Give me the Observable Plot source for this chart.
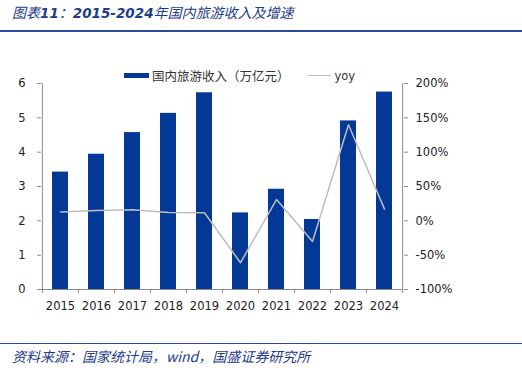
<!DOCTYPE html>
<html><head><meta charset="utf-8">
<script src="https://cdn.jsdelivr.net/npm/d3@7"></script>
<script src="https://cdn.jsdelivr.net/npm/@observablehq/plot@0.6"></script>
<style>
body{margin:0;background:#fff;}
#wrap{position:relative;width:522px;height:374px;overflow:hidden;font-family:"Noto Sans CJK SC","DejaVu Sans",sans-serif;}
#title{position:absolute;left:12px;top:2px;font-size:14px;font-style:italic;color:#1e3c8c;white-space:nowrap;}
#title b{font-family:"DejaVu Sans";font-size:13.5px;}
#tline{position:absolute;left:0;top:30px;width:522px;height:2px;background:#2a4a9e;}
#bline{position:absolute;left:0;top:343px;width:522px;height:1px;background:#2a4a9e;}
#src{position:absolute;left:12px;top:346px;font-size:14px;font-style:italic;color:#1e3c8c;white-space:nowrap;}
#legend{position:absolute;left:124px;top:66px;font-size:12.5px;color:#333;display:flex;align-items:center;white-space:nowrap;}
.sw{display:inline-block;width:25px;height:5px;background:#033896;margin-right:3px;}
.ln{display:inline-block;width:23px;height:1px;background:#bdbdbd;margin-left:18px;margin-right:4px;}
#chart{position:absolute;left:0;top:0;}
</style></head>
<body><div id="wrap">
<div id="title">图表<b>11</b>：<b>2015-2024</b>年国内旅游收入及增速</div>
<div id="tline"></div>
<div id="legend"><span class="sw"></span><span>国内旅游收入（万亿元）</span><span class="ln"></span><span style="font-family:'DejaVu Sans';font-size:11.5px">yoy</span></div>
<div id="chart"></div>
<div id="bline"></div>
<div id="src">资料来源：国家统计局，wind，国盛证券研究所</div>
</div>
<script>
const years = ["2015","2016","2017","2018","2019","2020","2021","2022","2023","2024"];
const revenue = [3.42, 3.94, 4.57, 5.13, 5.73, 2.23, 2.92, 2.04, 4.91, 5.75];
const yoy = [13, 15, 16, 12, 11.7, -61, 31, -30, 140, 17];
const leftTicks = [0,1,2,3,4,5,6];
const rightTicks = [-100,-50,0,50,100,150,200];

const toLeft = v => (v + 100) / 50;
const data = years.map((y,i)=>({year:y, rev:revenue[i], yoy:yoy[i]}));
const halfStep = 18.1;
const axisGray = "#8c8c8c";

const chart = Plot.plot({
  width: 522, height: 330,
  marginTop: 83, marginBottom: 41, marginLeft: 41, marginRight: 119,
  style: {fontFamily: "DejaVu Sans", fontSize: "11.5px", color: "#222", background: "transparent"},
  x: {domain: years, padding: 0, axis: null, label: null},
  y: {domain: [0, 6], axis: null, label: null},
  marks: [
    Plot.barY(data, {x: "year", y: "rev", fill: "#033896", insetLeft: 10, insetRight: 10}),
    Plot.line(data, {x: "year", y: d => toLeft(d.yoy), stroke: "#bdbdbd", strokeWidth: 1.5}),
    Plot.ruleY([0], {stroke: axisGray}),
    Plot.ruleX(["2015"], {y1: 0, y2: 6, dx: -halfStep, stroke: axisGray}),
    Plot.ruleX(["2024"], {y1: 0, y2: 6, dx: halfStep, stroke: axisGray}),
    Plot.ruleX(years, {y1: 0, y2: -0.12, dx: -halfStep, stroke: axisGray}),
    Plot.ruleX(["2024"], {y1: 0, y2: -0.12, dx: halfStep, stroke: axisGray}),
    Plot.axisX({tickSize: 0, tickPadding: 12, fill: "#222", label: null}),
    Plot.axisY({anchor: "left", ticks: leftTicks, tickFormat: d => String(d), tickSize: 4, tickPadding: 12, stroke: axisGray, fill: "#222", label: null}),
    Plot.axisY({anchor: "right", ticks: rightTicks.map(toLeft), tickFormat: d => `${Math.round(d*50-100)}%`, tickSize: 4, tickPadding: 8, stroke: axisGray, fill: "#222", label: null})
  ]
});
document.getElementById("chart").appendChild(chart);
</script>
</body></html>
